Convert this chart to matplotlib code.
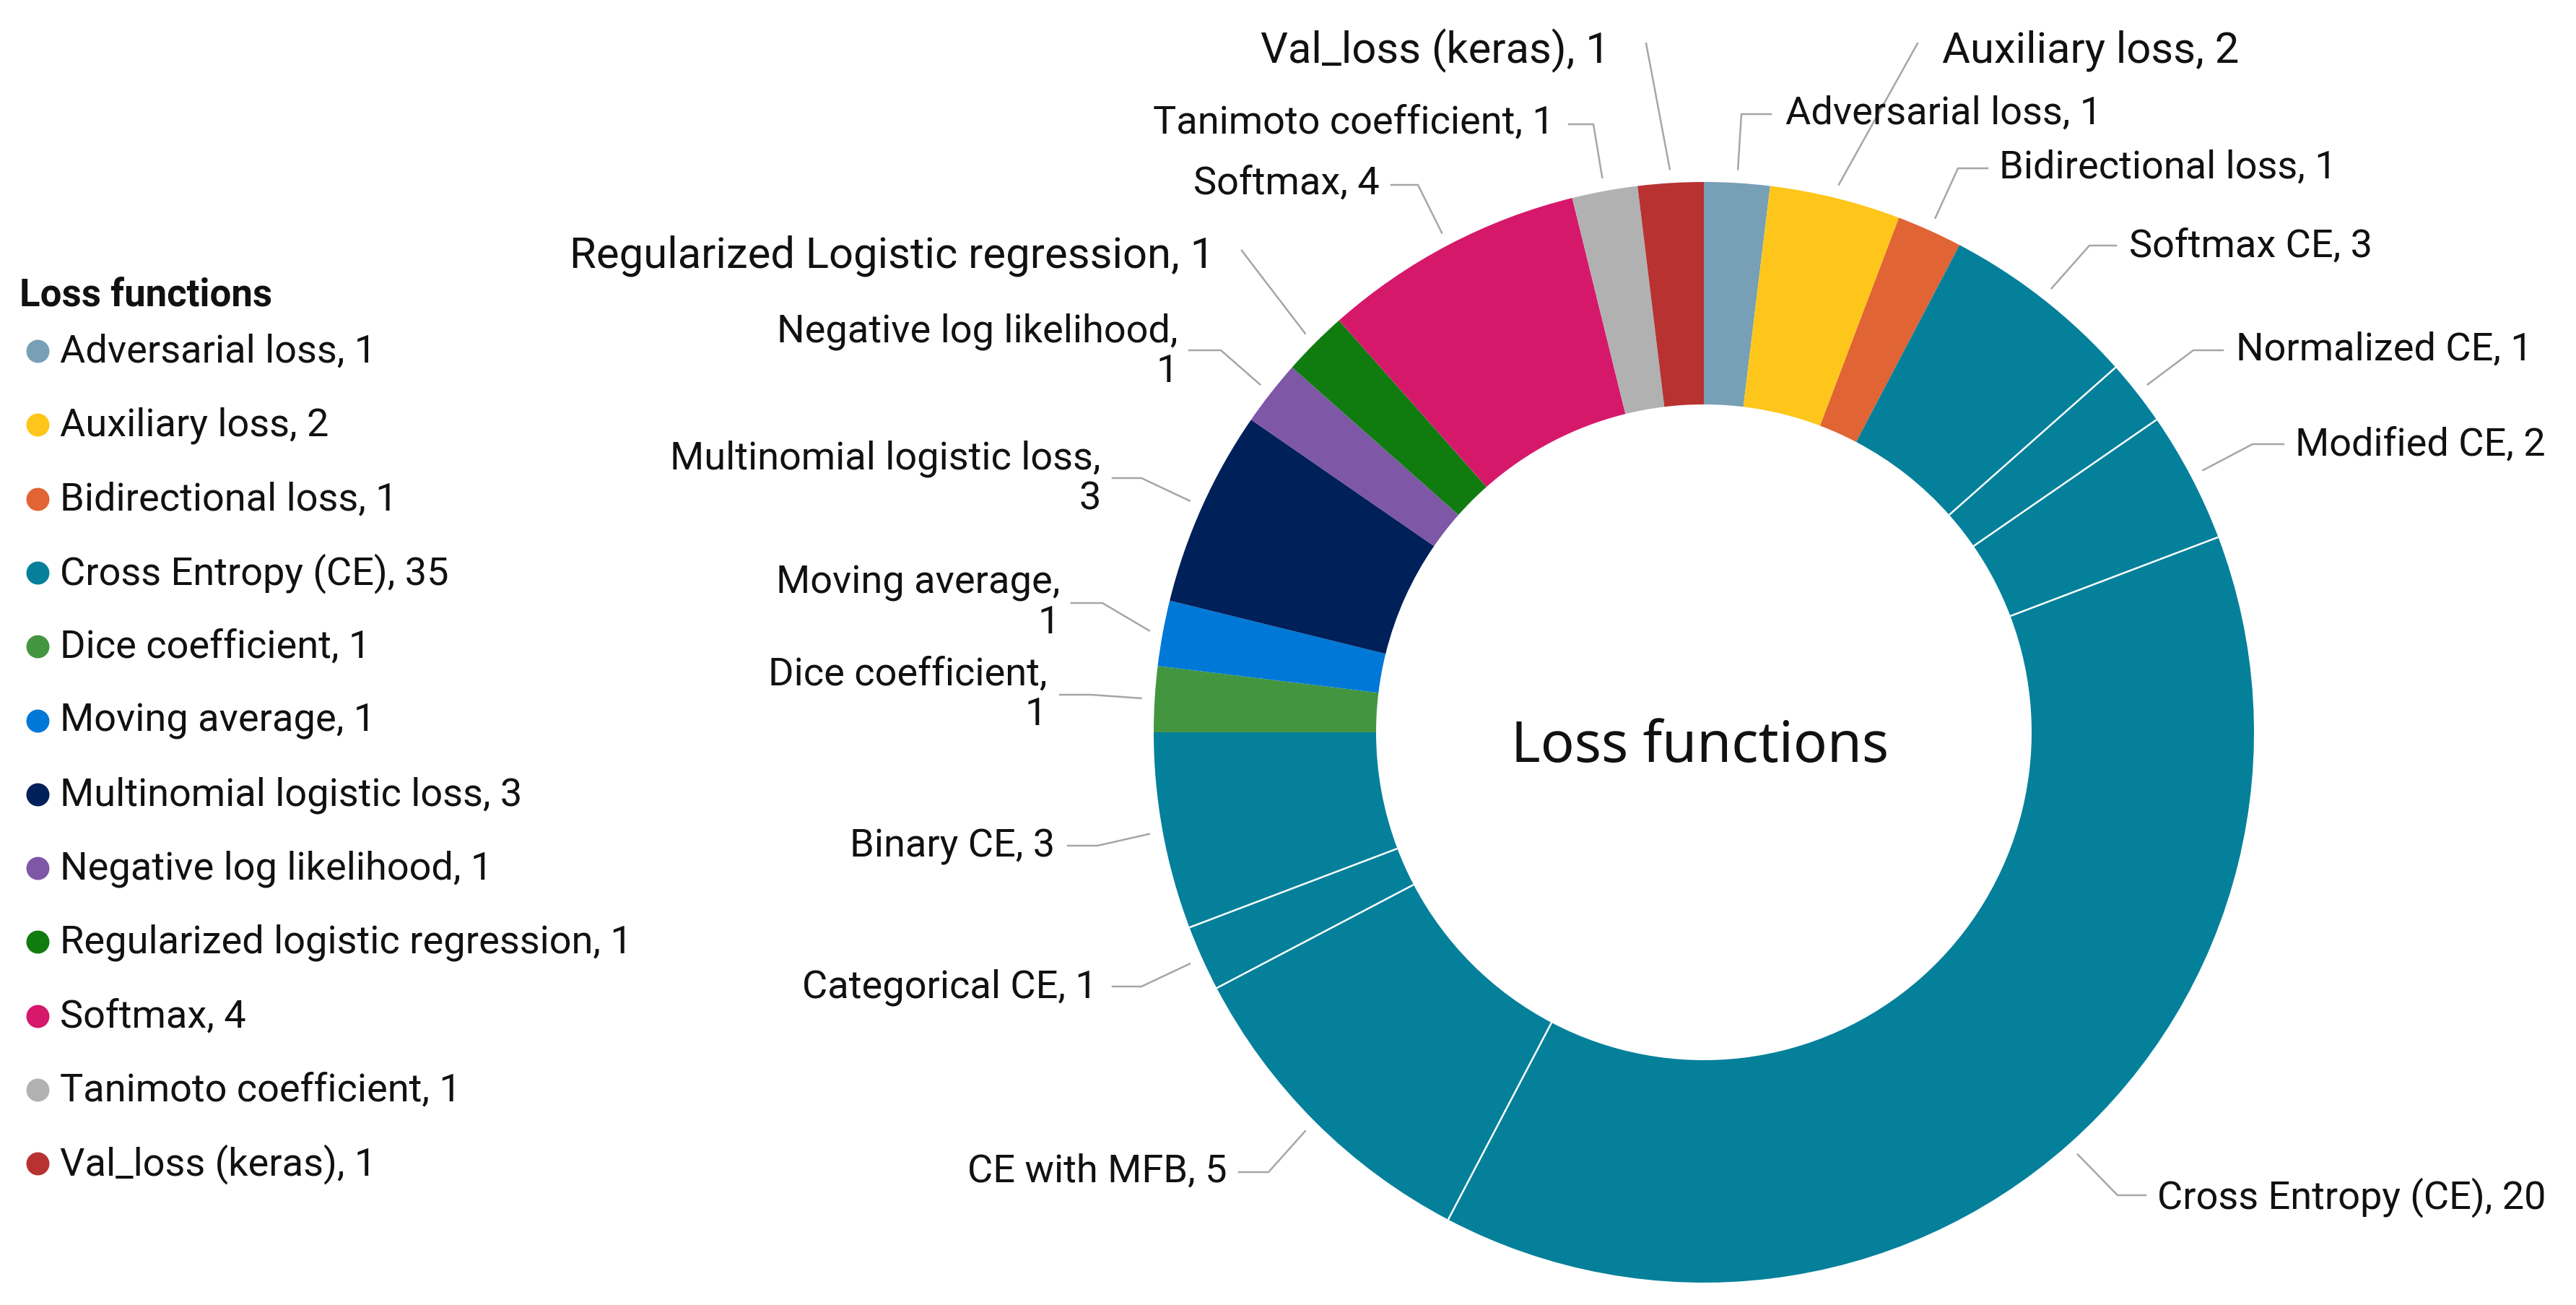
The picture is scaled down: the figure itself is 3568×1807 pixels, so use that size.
import numpy as np
import matplotlib.pyplot as plt

# slices, clockwise from 12 o'clock
slice_labels = ['Adversarial loss, 1', 'Auxiliary loss, 2', 'Bidirectional loss, 1',
                'Softmax CE, 3', 'Normalized CE, 1', 'Modified CE, 2',
                'Cross Entropy (CE), 20', 'CE with MFB, 5', 'Categorical CE, 1',
                'Binary CE, 3', 'Dice coefficient,\n1', 'Moving average,\n1',
                'Multinomial logistic loss,\n3', 'Negative log likelihood,\n1',
                'Regularized Logistic regression, 1', 'Softmax, 4',
                'Tanimoto coefficient, 1', 'Val_loss (keras), 1']
slice_values = [1, 2, 1, 3, 1, 2, 20, 5, 1, 3, 1, 1, 3, 1, 1, 4, 1, 1]

legend_labels = ['Adversarial loss, 1', 'Auxiliary loss, 2', 'Bidirectional loss, 1',
                 'Cross Entropy (CE), 35', 'Dice coefficient, 1', 'Moving average, 1',
                 'Multinomial logistic loss, 3', 'Negative log likelihood, 1',
                 'Regularized logistic regression, 1', 'Softmax, 4',
                 'Tanimoto coefficient, 1', 'Val_loss (keras), 1']

TEAL = '#05809b'
legend_colors = ['#779fb6', '#fec61a', '#e06434', TEAL, '#43963f', '#0078d7',
                 '#00205a', '#7e57a6', '#107c10', '#d6186b', '#b1b1b1', '#b83232']
slice_colors = ['#779fb6', '#fec61a', '#e06434', TEAL, TEAL, TEAL, TEAL, TEAL, TEAL,
                TEAL, '#43963f', '#0078d7', '#00205a', '#7e57a6', '#107c10',
                '#d6186b', '#b1b1b1', '#b83232']

# layout in output pixels (y measured from the top)
W, H = 3568, 1808
CX, CY, R, HOLE = 2360, 1015, 762, 454

# (elbow x, elbow y, end x, text x, text y, ha, light font)
label_layout = [
    (2412, 159, 2453, 2473, 157, 'left', False),
    (2656, 61, 2656, 2690, 70, 'left', True),
    (2712, 234, 2753, 2769, 232, 'left', False),
    (2894, 341, 2931, 2949, 341, 'left', False),
    (3038, 486, 3079, 3097, 484, 'left', False),
    (3120, 616, 3163, 3179, 616, 'left', False),
    (2933, 1656, 2972, 2988, 1658, 'left', False),
    (1757, 1624, 1716, 1700, 1622, 'right', False),
    (1581, 1367, 1541, 1520, 1367, 'right', False),
    (1520, 1172, 1479, 1461, 1172, 'right', False),
    (1511, 963, 1468, 1450, 962, 'right', False),
    (1527, 836, 1484, 1468, 835, 'right', False),
    (1581, 663, 1541, 1525, 663, 'right', False),
    (1691, 486, 1647, 1632, 487, 'right', False),
    (1720, 348, 1720, 1682, 354, 'right', True),
    (1964, 257, 1927, 1911, 254, 'right', False),
    (2207, 173, 2173, 2153, 170, 'right', False),
    (2280, 61, 2280, 2230, 70, 'right', True),
]

FONT = ['Roboto', 'DejaVu Sans']

fig = plt.figure(figsize=(W / 200, H / 200), dpi=200)
ax = fig.add_axes([0, 0, 1, 1])

wedges, _ = ax.pie(slice_values, colors=slice_colors, startangle=90, counterclock=False,
                   radius=R, center=(CX, H - CY),
                   wedgeprops=dict(width=R - HOLE, linewidth=0))

# thin white separators between the cross entropy sub-slices
for i in range(len(wedges) - 1):
    if slice_colors[i] == TEAL and slice_colors[i + 1] == TEAL:
        ang = np.deg2rad(min(wedges[i].theta1, wedges[i].theta2))
        ax.plot([CX + HOLE * np.cos(ang), CX + R * np.cos(ang)],
                [H - CY + HOLE * np.sin(ang), H - CY + R * np.sin(ang)],
                color='white', lw=0.9, solid_capstyle='butt')

# labels with leader lines
for w, text, (ex, ey, endx, tx, ty, ha, light) in zip(wedges, slice_labels, label_layout):
    mid = np.deg2rad((w.theta1 + w.theta2) / 2)
    sx = CX + 1.025 * R * np.cos(mid)
    sy = H - CY + 1.025 * R * np.sin(mid)
    ax.plot([sx, ex, endx], [sy, H - ey, H - ey], color='#a6a6a6', lw=0.9)
    ax.text(tx, H - ty, text, ha=ha, va='center', multialignment=ha,
            fontsize=21.5 if light else 19.5, family=FONT,
            fontweight='normal', color='#111111', linespacing=1.1)

ax.text(2355, H - 1034, 'Loss functions', ha='center', va='center',
        fontsize=28, family=['Noto Sans', 'DejaVu Sans'], color='#111111')

# legend on the left
ax.text(27, H - 409, 'Loss functions', ha='left', va='center', fontsize=19,
        fontweight='bold', family=FONT, color='#111111')
for i, (lab, col) in enumerate(zip(legend_labels, legend_colors)):
    y = H - (487 + i * 102.3)
    ax.plot([52], [y], marker='o', ms=11.5, color=col, mec='none')
    ax.text(83, y, lab, ha='left', va='center', fontsize=19.5, family=FONT,
            color='#111111')

ax.set_xlim(0, W)
ax.set_ylim(0, H)
ax.set_aspect('auto')
ax.axis('off')

fig.savefig('out.png', dpi=200, facecolor='white')
